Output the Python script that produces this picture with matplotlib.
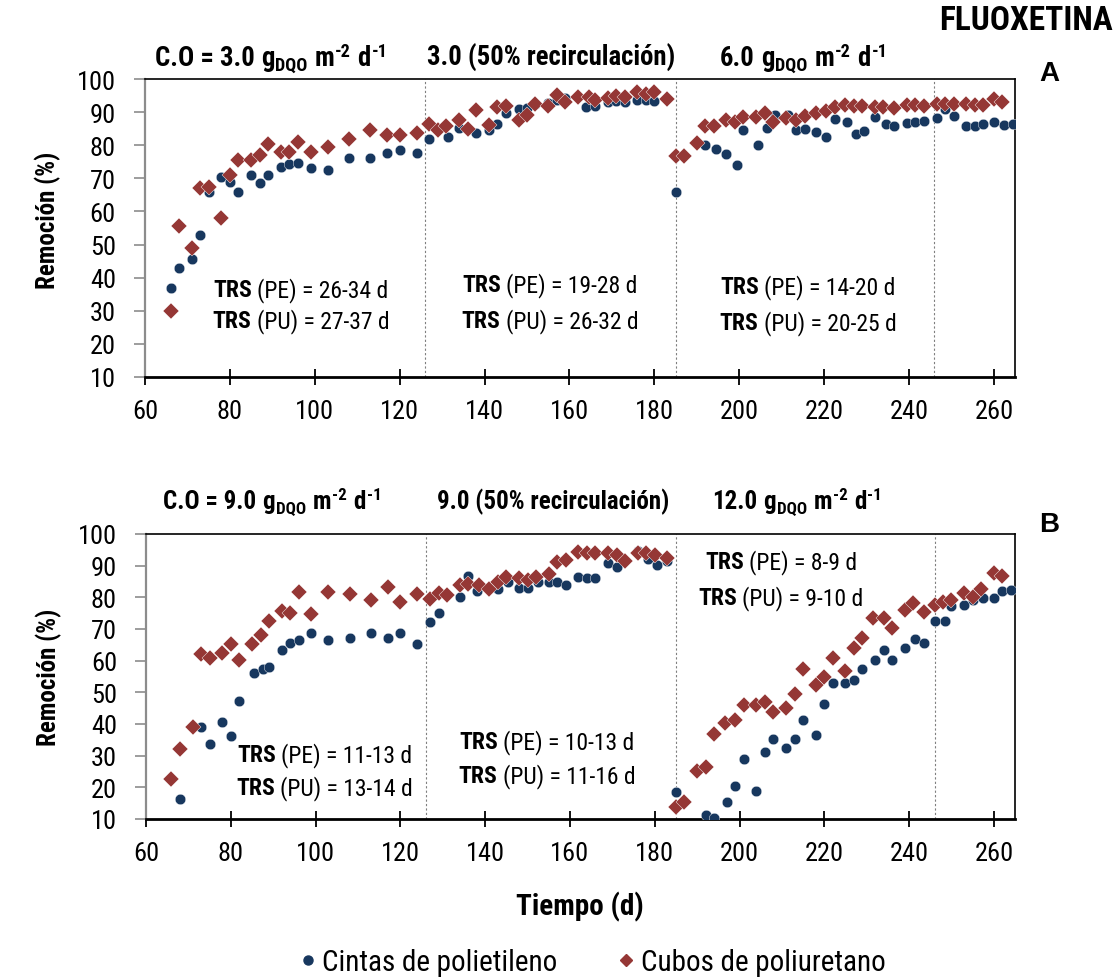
import numpy as np
import matplotlib
matplotlib.use("Agg")
import matplotlib.pyplot as plt
import matplotlib.font_manager as fm
from matplotlib.lines import Line2D

# pick a condensed sans face if one is installed (reference uses Arial Narrow / Calibri)
COND_STRETCH = ('condensed', 'semi-condensed', 'extra-condensed', 'ultra-condensed')
faces = {}
for f in fm.fontManager.ttflist:
    if f.stretch in COND_STRETCH or 'Narrow' in f.name or 'Condensed' in f.name:
        faces.setdefault((f.name, f.stretch), set()).add(f.weight)
prefer = ['Liberation Sans Narrow', 'Arial Narrow', 'Roboto Condensed', 'Open Sans Condensed',
          'Open Sans', 'Noto Sans Condensed', 'Noto Sans', 'DejaVu Sans Condensed', 'DejaVu Sans']
chosen = None
for name in prefer:
    for (fam, st), weights in faces.items():
        if fam == name and any(str(w) in ('700', 'bold') for w in weights):
            chosen = (fam, st)
            break
    if chosen:
        break
if chosen is None:
    chosen = ('Liberation Sans', 'normal')

plt.rcParams['font.family'] = [chosen[0], 'DejaVu Sans']
plt.rcParams['font.stretch'] = chosen[1]

# Panel A - PE (cintas de polietileno)
pe_a_t = [66, 68, 71, 73, 75, 78, 80, 82, 85, 87, 89, 92, 94, 96, 99, 103, 108, 113, 117, 120,
          124, 127, 131.5, 134, 138, 141, 143, 145, 148, 150, 152, 155, 157, 159, 164, 166, 169, 171, 173, 176,
          178, 180, 185, 192, 194.5, 197, 199.5, 201, 204.5, 206.5, 208.5, 211.5, 213.5, 215.5, 218, 220.5, 222.5, 225.5, 227.5, 229.5,
          232, 234.5, 236.5, 239.5, 241.5, 243.5, 246.5, 248.5, 250.5, 253.5, 255.5, 257.5, 260, 262.5, 264.5]
pe_a_v = [37, 43, 45.5, 53, 66, 70.5, 69, 66, 71, 68.5, 71, 73.5, 74.3, 74.5, 73, 72.6, 76, 76, 77.7, 78.6,
          77.6, 82, 82.6, 85.2, 83.6, 84.6, 86.5, 89.7, 90.8, 91.2, 92.5, 92.7, 93.7, 94.3, 91.5, 91.8, 93, 93.5, 93, 93.7,
          93.7, 93.5, 66, 80, 79, 77.4, 74, 84.6, 80.2, 85.2, 89, 89, 84.6, 84.9, 83.9, 82.4, 88, 87, 83.4, 84.4,
          88.5, 86.5, 85.9, 86.8, 87, 87.3, 88.2, 91, 88.7, 85.9, 85.9, 86.5, 87, 86.2, 86.5]

# Panel A - PU (cubos de poliuretano)
pu_a_t = [66, 68, 71, 73, 75, 78, 80, 82, 85, 87, 89, 92, 94, 96, 99, 103, 108, 113, 117, 120,
          124, 127, 129, 131, 134, 136, 138, 141, 143, 145, 148, 150, 152, 155, 157, 159, 162, 164.5, 166, 169,
          171, 173, 176, 178, 180, 183, 185, 187, 190, 192, 194, 197, 199, 201, 204, 206, 208, 211, 213.5, 215.5,
          218, 220.5, 222.5, 225, 227, 229, 232, 234, 236.5, 239.5, 241.5, 243.5, 246.5, 248.5, 250.5, 253.5, 255.5, 257.5, 260, 262]
pu_a_v = [30, 55.5, 49, 67, 67.5, 58, 71, 75.5, 75.5, 77, 80.5, 78, 78, 81, 78, 79.5, 82, 84.5, 83, 83,
          83.6, 86.3, 84.5, 85.9, 87.7, 84.9, 90.7, 86.2, 91.5, 91.8, 87.7, 89, 92.5, 91.8, 95.3, 93, 94.5, 94.5, 93.7, 94.3,
          95, 94.7, 96, 95.5, 96, 94, 76.8, 76.8, 80.7, 85.9, 85.8, 87.5, 87, 88.5, 88.5, 89.8, 87, 88.2, 87.5, 88.8,
          89.7, 90.2, 91.5, 92, 91.8, 91.8, 91.5, 91.5, 91.2, 92, 92.2, 91.8, 92.5, 92.5, 92.5, 92.5, 92.2, 92.2, 94, 93]

# Panel B - PE
pe_b_t = [68, 73, 75, 78, 80, 82, 85.5, 87.5, 89, 92, 94, 96, 99, 103, 108, 113, 117, 120, 124, 127,
          129, 134, 136, 138, 143, 145.5, 148, 150, 152.5, 155, 157, 159, 162, 164, 166, 169, 171, 176, 178.5, 180.5,
          183, 185, 192, 194, 197, 199, 201, 204, 206, 208, 211, 213, 215, 218, 220, 222, 225, 227, 229, 232,
          234, 236, 239, 241.5, 243.5, 246, 248.5, 250, 253, 255, 257.5, 260, 262, 264]
pe_b_v = [16.4, 39, 33.8, 40.6, 36.2, 47.3, 56.1, 57.3, 58, 63.3, 65.6, 66.5, 68.8, 66.5, 67, 68.6, 67, 68.6, 65.2, 72.3,
          75.1, 80.2, 86.7, 82, 82.5, 84.9, 82.8, 82.8, 84.9, 84.9, 84.9, 83.9, 86.5, 86.2, 86.2, 90.7, 89.7, 94.7, 92, 90.2,
          91.5, 18.5, 11.4, 10.3, 15.3, 20.4, 29, 18.8, 31.1, 35.3, 32.4, 35.3, 41.1, 36.4, 46.4, 53, 53, 53.8, 57.5, 60.1,
          63.5, 60.1, 64.1, 66.7, 65.6, 72.6, 72.5, 77.2, 77.5, 79.1, 79.7, 79.7, 82.1, 82.3]

# Panel B - PU
pu_b_t = [66, 68, 71, 73, 75, 78, 80, 82, 85, 87, 89, 92, 94, 96, 99, 103, 108, 113, 117, 120,
          124, 127, 129, 131, 134, 136, 138.5, 141, 143, 145, 148, 150, 152, 155, 157, 159, 162, 164, 166, 169,
          171, 173, 176, 178, 180, 183, 185, 187, 190, 192, 194, 196.5, 199, 201, 204, 206, 208, 211, 213, 215,
          218, 220, 222, 225, 227, 229, 231.5, 234, 236, 239, 241, 243.5, 246, 248, 250, 253, 255, 257, 260, 262]
pu_b_v = [22.7, 32, 39, 62.2, 60.7, 62.5, 65.4, 60.1, 65.3, 68.1, 72.5, 75.8, 74.9, 81.6, 74.6, 81.8, 81, 79.3, 83.4, 78.6,
          81, 79.5, 81.2, 80.7, 83.9, 84.1, 83.9, 82.6, 84.9, 86.5, 86, 85.4, 86.5, 87.3, 91, 91.8, 94.4, 94.1, 93.9, 94.1,
          93.2, 91.6, 94.1, 93.9, 93.2, 92.5, 13.8, 15.5, 25.3, 26.4, 36.9, 40.3, 41.4, 46.1, 46.1, 47, 43.8, 45.1, 49.6, 57.2,
          52.2, 54.9, 60.7, 56.8, 64.1, 67, 73.6, 73.5, 70.2, 75.9, 78.1, 75.4, 77.5, 78.6, 79.3, 81.2, 80.2, 82.5, 87.8, 86.7]

phase_limits = [126, 185, 246]

# organic load headers: (base text, rate) ; "g_DQO m^-2 d^-1" is appended when rate is True
headers_a = [("C.O = 3.0", True), ("3.0 (50% recirculación)", False), ("6.0", True)]
headers_b = [("C.O = 9.0", True), ("9.0 (50% recirculación)", False), ("12.0", True)]

trs_a = [("(PE) = 26-34 d", "(PU) = 27-37 d"),
         ("(PE) = 19-28 d", "(PU) = 26-32 d"),
         ("(PE) = 14-20 d", "(PU) = 20-25 d")]
trs_b = [("(PE) = 11-13 d", "(PU) = 13-14 d"),
         ("(PE) = 10-13 d", "(PU) = 11-16 d"),
         ("(PE) = 8-9 d", "(PU) = 9-10 d")]

BLUE = '#17375E'
RED = '#953735'
W, H = 1120, 978

fig = plt.figure(figsize=(11.2, 9.78), dpi=100)
ax_a = fig.add_axes([0.1295, 0.6135, 0.7768, 0.3047])
ax_b = fig.add_axes([0.1304, 0.1616, 0.7759, 0.2914])
renderer = fig.canvas.get_renderer()


def rich_text(x_px, y_px, parts, ha='left'):
    # parts: (text, weight, size, gap_px, dy_px); placed left to right on one baseline
    items = []
    for s, wgt, size, gap, dy in parts:
        t = fig.text(0, 0, s, fontsize=size, fontweight=wgt, va='baseline', ha='left')
        items.append((t, t.get_window_extent(renderer).width, gap, dy))
    total = sum(w + g for _, w, g, _ in items)
    x = x_px - total / 2 if ha == 'center' else x_px
    for t, w, gap, dy in items:
        x += gap
        t.set_position((x / W, (H - y_px + dy) / H))
        x += w


def header(x_px, y_px, base, rate, size):
    sub = size * 0.68
    parts = [(base, 'bold', size, 0, 0)]
    if rate:
        parts += [("g", 'bold', size, 6, 0), ("DQO", 'bold', sub, 1, -5),
                  ("m", 'bold', size, 7, 0), ("-2", 'bold', sub, 1, 9),
                  ("d", 'bold', size, 6, 0), ("-1", 'bold', sub, 1, 9)]
    rich_text(x_px, y_px, parts)


def draw_panel(ax, pe_t, pe_v, pu_t, pu_v, label_y):
    for x in phase_limits:
        ax.axvline(x, color='#7f7f7f', lw=0.8, ls=(0, (2, 2)), zorder=1)
    ax.plot(pe_t, pe_v, 'o', color=BLUE, ms=7.6, mec='white', mew=0.3, zorder=3)
    ax.plot(pu_t, pu_v, 'D', color=RED, ms=7.8, mec='white', mew=0.3, zorder=4)
    ax.set_xlim(60, 265)
    ax.set_ylim(10, 100)
    ax.set_xticks(np.arange(60, 261, 20))
    ax.set_yticks(np.arange(10, 101, 10))
    ax.tick_params(axis='x', direction='inout', length=12, width=1.3, labelsize=19, pad=10)
    ax.tick_params(axis='y', direction='out', length=8, width=1.2, color='#8c8c8c', labelsize=19, pad=13)
    ax.spines['left'].set_color('#8c8c8c')
    ax.spines['left'].set_linewidth(1.6)
    ax.spines['bottom'].set_linewidth(2.0)
    ax.spines['top'].set_linewidth(1.2)
    ax.spines['right'].set_linewidth(1.2)
    ax.set_ylabel('Remoción (%)', fontsize=18, fontweight='bold')
    ax.yaxis.set_label_coords(-0.097, label_y)


draw_panel(ax_a, pe_a_t, pe_a_v, pu_a_t, pu_a_v, 0.53)
draw_panel(ax_b, pe_b_t, pe_b_v, pu_b_t, pu_b_v, 0.5)

# TRS annotations, centred at reference pixel positions (x centre, baseline y)
trs_pos_a = [(301, 297, 328), (550, 292, 328), (808, 294, 330)]
trs_pos_b = [(325, 762, 795), (547, 749, 783), (781, 569, 605)]
for trs, pos in [(trs_a, trs_pos_a), (trs_b, trs_pos_b)]:
    for (l1, l2), (xc, y1, y2) in zip(trs, pos):
        rich_text(xc, y1, [("TRS", 'bold', 17, 0, 0), (l1, 'normal', 17, 5, 0)], ha='center')
        rich_text(xc, y2, [("TRS", 'bold', 17, 0, 0), (l2, 'normal', 17, 5, 0)], ha='center')

for (base, rate), x in zip(headers_a, [155, 427, 720]):
    header(x, 66, base, rate, 19.3)
for (base, rate), x in zip(headers_b, [163, 437, 712]):
    header(x, 509, base, rate, 18)

fig.text(1113 / W, 1 - 21 / H, 'FLUOXETINA', ha='right', va='center', fontsize=24, fontweight='bold')
fig.text(1049 / W, 1 - 74 / H, 'A', ha='center', va='center', fontsize=20, fontweight='bold',
         family=['Liberation Sans', 'DejaVu Sans'])
fig.text(1049 / W, 1 - 525 / H, 'B', ha='center', va='center', fontsize=20, fontweight='bold',
         family=['Liberation Sans', 'DejaVu Sans'])

fig.text(580 / W, 1 - 907 / H, 'Tiempo (d)', ha='center', va='center', fontsize=21, fontweight='bold')

handles = [Line2D([], [], ls='none', marker='o', color=BLUE, ms=6.5),
           Line2D([], [], ls='none', marker='D', color=RED, ms=6)]
fig.legend(handles, ['Cintas de polietileno', 'Cubos de poliuretano'], loc='center',
           bbox_to_anchor=(590 / W, 1 - 963 / H), ncol=2, frameon=False, fontsize=21,
           handletextpad=0.05, columnspacing=1.9, handlelength=0.9)

fig.savefig('out.png', dpi=100)
